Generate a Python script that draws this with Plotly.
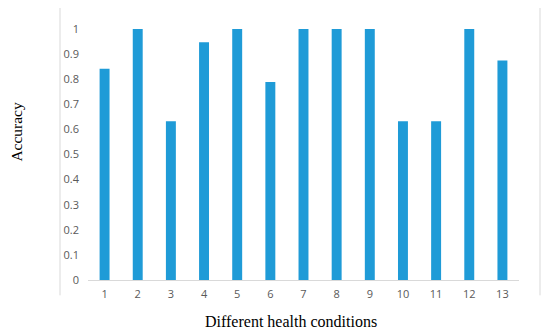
import plotly.graph_objects as go

categories = ["1", "2", "3", "4", "5", "6", "7", "8", "9", "10", "11", "12", "13"]
accuracy = [0.842, 1.0, 0.632, 0.947, 1.0, 0.789, 1.0, 1.0, 1.0, 0.632, 0.632, 1.0, 0.875]
y_ticks = [0, 0.1, 0.2, 0.3, 0.4, 0.5, 0.6, 0.7, 0.8, 0.9, 1]
y_tick_labels = ["0", "0.1", "0.2", "0.3", "0.4", "0.5", "0.6", "0.7", "0.8", "0.9", "1"]

# The page body has an 8px default margin, so the figure is drawn 8px in.
OFF = 8
W, H = 550 - OFF, 335 - OFF
L, R, T, B = 88 - OFF, 31, 29 - OFF, 63.3 - OFF
pw, ph = W - L - R, H - T - B

def px_x(x):
    return (x - OFF - L) / pw

def px_y(y):
    return (H - B - (y - OFF)) / ph

fig = go.Figure(go.Bar(
    x=categories, y=accuracy, width=0.3,
    marker=dict(color="#1f9bd7", line=dict(width=0)),
))

fig.update_layout(
    width=W, height=H,
    margin=dict(l=L, r=R, t=T, b=B, autoexpand=False),
    paper_bgcolor="white", plot_bgcolor="white",
    showlegend=False,
    font=dict(family="Open Sans", color="#595959", size=11),
    xaxis=dict(type="category", showgrid=False, showline=True, linecolor="#d9d9d9",
               linewidth=1, ticks="", tickfont=dict(size=11, color="#595959"),
               zeroline=False, ticklabelstandoff=4),
    yaxis=dict(range=[0, 1], tickvals=y_ticks, ticktext=y_tick_labels, showgrid=False,
               showline=False, zeroline=False, ticks="", ticklabelstandoff=8,
               tickfont=dict(size=11, color="#595959")),
    shapes=[dict(type="path", xref="paper", yref="paper",
                 path=f"M {px_x(60)},{px_y(295)} L {px_x(60)},{px_y(7)} L {px_x(540)},{px_y(7)} L {px_x(540)},{px_y(295)}",
                 line=dict(color="#d9d9d9", width=1))],
    annotations=[
        dict(text="Accuracy", xref="paper", yref="paper", x=px_x(16.5), y=px_y(132),
             showarrow=False, textangle=-90, xanchor="center", yanchor="middle",
             font=dict(family="Liberation Serif", size=15.5, color="black")),
        dict(text="Different health conditions", xref="paper", yref="paper", x=px_x(291), y=px_y(321),
             showarrow=False, xanchor="center", yanchor="middle",
             font=dict(family="Liberation Serif", size=16, color="black")),
    ],
)

fig.write_html("out.html")
